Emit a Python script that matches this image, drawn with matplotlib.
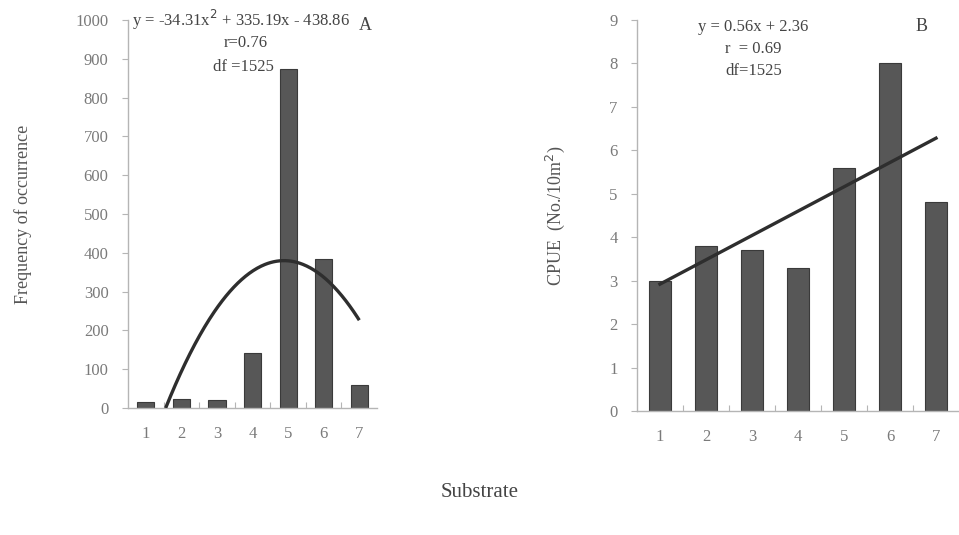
import matplotlib
matplotlib.use("Agg")
import matplotlib.pyplot as plt
import numpy as np

plt.rcParams["font.family"] = ["Liberation Serif", "DejaVu Serif"]

substrate = [1, 2, 3, 4, 5, 6, 7]
freq = [15, 22, 20, 143, 875, 385, 58]
cpue = [3.0, 3.8, 3.7, 3.3, 5.6, 8.0, 4.8]

# fitted curves from the reported equations
quad_coef = [-34.31, 335.19, -438.86]
lin_coef = [0.56, 2.36]

BAR = "#575757"
EDGE = "#3a3a3a"
TICK = "#7a7a7a"
SPINE = "#b5b5b5"

fig = plt.figure(figsize=(9.59, 5.35), dpi=100)
axA = fig.add_axes([0.1335, 0.2374, 0.2597, 0.7252])
axB = fig.add_axes([0.6642, 0.2318, 0.3358, 0.7308])


def style(ax):
    for s in ["top", "right"]:
        ax.spines[s].set_visible(False)
    for s in ["left", "bottom"]:
        ax.spines[s].set_color(SPINE)
        ax.spines[s].set_linewidth(1.0)
    ax.set_xlim(0.5, 7.5)
    ax.set_xticks(np.arange(1.5, 7.5, 1.0))
    ax.set_xticklabels([])
    ax.set_xticks(substrate, minor=True)
    ax.set_xticklabels([str(s) for s in substrate], minor=True)
    ax.tick_params(axis="x", which="major", length=4, color=SPINE, direction="in")
    ax.tick_params(axis="x", which="minor", length=0, pad=13, labelsize=12, labelcolor=TICK)
    ax.tick_params(axis="y", length=4, color=SPINE, direction="out", pad=10,
                   labelsize=12, labelcolor=TICK)


# Panel A
axA.bar(substrate, freq, width=0.48, color=BAR, edgecolor=EDGE, linewidth=0.8, zorder=2)
a, b, c = quad_coef
x0 = (-b + np.sqrt(b * b - 4 * a * c)) / (2 * a)
xs = np.linspace(x0, 7, 200)
axA.plot(xs, np.polyval(quad_coef, xs), color="#2e2e2e", lw=2.4, zorder=3,
         solid_capstyle="butt")
axA.set_ylim(0, 1000)
axA.set_yticks(np.arange(0, 1001, 100))
style(axA)
axA.set_ylabel("Frequency of occurrence", fontsize=13, color="#555555", labelpad=31)
axA.text(0.6, 1000, "y = -34.31x$^2$ + 335.19x - 438.86", fontsize=12, color="#444444",
         ha="left", va="center")
axA.text(3.8, 940, "r=0.76", fontsize=12, color="#444444", ha="center", va="center")
axA.text(4.6, 880, "df =1525", fontsize=12, color="#444444", ha="right", va="center")
axA.text(7.0, 985, "A", fontsize=13, color="#444444", ha="left", va="center")

# Panel B
axB.bar(substrate, cpue, width=0.46, color=BAR, edgecolor=EDGE, linewidth=0.8, zorder=2)
xl = np.array([1, 7])
axB.plot(xl, np.polyval(lin_coef, xl), color="#2e2e2e", lw=2.4, zorder=3)
axB.set_ylim(0, 9)
axB.set_yticks(range(0, 10))
style(axB)
axB.set_ylabel("CPUE  (No./10m$^2$)", fontsize=13, color="#555555", labelpad=30)
axB.text(3.03, 8.85, "y = 0.56x + 2.36", fontsize=12, color="#444444", ha="center", va="center")
axB.text(3.03, 8.33, "r  = 0.69", fontsize=12, color="#444444", ha="center", va="center")
axB.text(3.03, 7.82, "df=1525", fontsize=12, color="#444444", ha="center", va="center")
axB.text(6.55, 8.85, "B", fontsize=13, color="#444444", ha="left", va="center")

fig.text(0.5, 0.08, "Substrate", fontsize=15, color="#444444", ha="center", va="center")

fig.savefig("out.png", dpi=100)
